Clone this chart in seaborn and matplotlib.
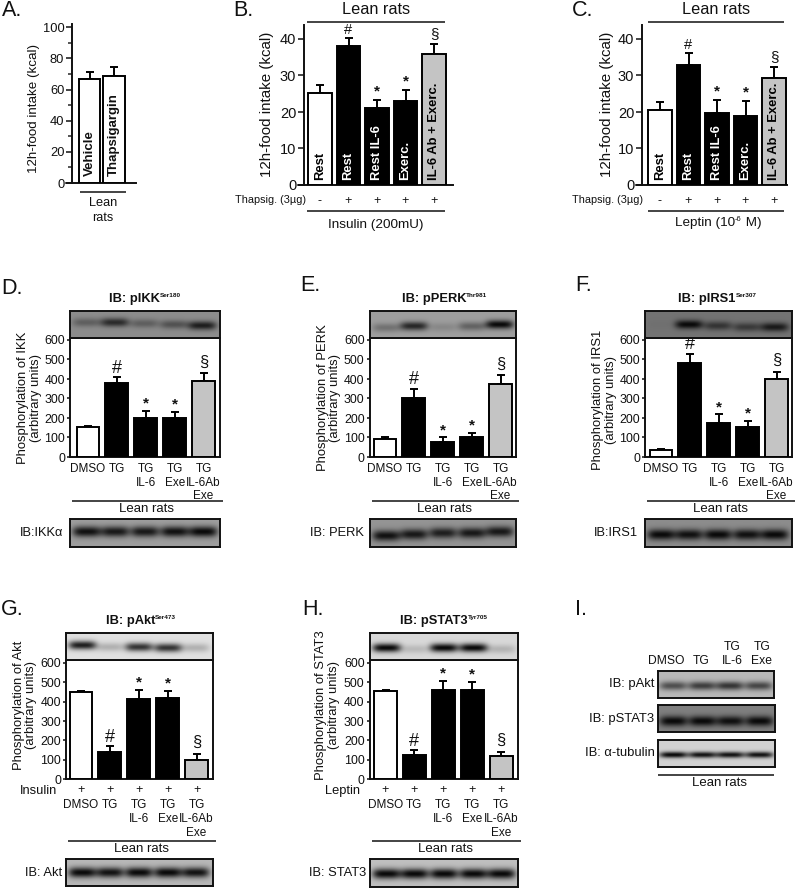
import numpy as np
import matplotlib
matplotlib.use('Agg')
import matplotlib.pyplot as plt
import seaborn as sns

# valores
a_vals = [66.5, 69]
a_errs = [4.5, 5.5]
a_names = ['Vehicle', 'Thapsigargin']

feed_names = ['Rest', 'Rest', 'Rest IL-6', 'Exerc.', 'IL-6 Ab + Exerc.']
b_vals = [25.2, 38, 21.2, 23, 36]
b_errs = [2.3, 2.4, 2.1, 3, 2.5]
c_vals = [20.5, 33, 19.8, 19, 29.2]
c_errs = [2.2, 3.3, 3.5, 4, 3]
thapsig_signs = ['-', '+', '+', '+', '+']

tg_labels = ['DMSO', 'TG', 'TG\nIL-6', 'TG\nExe', 'TG\nIL-6Ab\nExe']
d_vals = [152, 380, 200, 198, 388]
d_errs = [6, 30, 35, 34, 42]
e_vals = [92, 305, 75, 100, 372]
e_errs = [8, 45, 25, 25, 46]
f_vals = [38, 480, 175, 155, 400]
f_errs = [5, 50, 43, 32, 37]
g_vals = [447, 140, 415, 417, 100]
g_errs = [8, 30, 43, 38, 32]
h_vals = [452, 127, 462, 462, 120]
h_errs = [6, 23, 43, 41, 22]

up_marks = ['', '#', '*', '*', '§']
down_marks = ['', '#', '*', '*', '§']

# intensidad de las bandas en los blots (0-1) y altura relativa
d_top_dark = [0.35, 0.75, 0.35, 0.45, 0.85]
d_top_y = [0.42, 0.42, 0.46, 0.5, 0.54]
e_top_dark = [0.3, 0.8, 0.15, 0.4, 1.0]
e_top_y = [0.62, 0.56, 0.6, 0.57, 0.5]
f_top_dark = [0.03, 1.0, 0.6, 0.55, 0.85]
f_top_y = [0.5, 0.5, 0.55, 0.6, 0.6]
g_top_dark = [0.9, 0.22, 0.8, 0.8, 0.22]
g_top_y = [0.45, 0.52, 0.52, 0.55, 0.55]
h_top_dark = [1.0, 0.15, 1.0, 1.0, 0.18]
h_top_y = [0.55, 0.6, 0.55, 0.55, 0.6]
d_load_dark = [0.95, 0.9, 0.9, 0.95, 1.0]
e_load_dark = [0.95, 0.9, 0.85, 0.9, 0.9]
f_load_dark = [1.0, 0.95, 1.0, 0.95, 1.0]
g_load_dark = [1.0, 0.95, 1.0, 1.0, 0.95]
h_load_dark = [1.0, 1.0, 1.0, 1.0, 1.0]
i_akt_dark = [0.6, 0.7, 0.75, 0.65]
i_stat_dark = [1.0, 1.0, 0.95, 1.0]
i_tub_dark = [1.0, 0.95, 0.95, 0.95]

W, H = 796, 888
INK = '#111111'
GRAY = '#c4c4c4'

sns.set_style('ticks')
plt.rcParams['font.family'] = ['Liberation Sans', 'DejaVu Sans']
fig = plt.figure(figsize=(W / 100, H / 100), dpi=100, facecolor='white')

# eje de toda la figura en pixeles para textos y reglas
ov = fig.add_axes([0, 0, 1, 1], zorder=10)
ov.set_xlim(0, W)
ov.set_ylim(H, 0)
ov.axis('off')
ov.patch.set_alpha(0)


def px_axes(left, top, right, bottom):
    return fig.add_axes([left / W, 1 - bottom / H, (right - left) / W, (bottom - top) / H])


def txt(x, y, s, size=9, ha='center', rot=0, **kw):
    return ov.text(x, y, s, fontsize=size, ha=ha, va='center', rotation=rot, color=INK, **kw)


def rule(x0, x1, y):
    ov.plot([x0, x1], [y, y], color=INK, lw=1.1, solid_capstyle='butt')


def sup_text(x, y, base, sup, tail='', size=9, weight='normal', sup_size=5):
    r = fig.canvas.get_renderer()
    t = txt(x, y, base, size=size, ha='left', fontweight=weight)
    x1 = t.get_window_extent(r).x1
    s = txt(x1, y - 4, sup, size=sup_size, ha='left', fontweight=weight)
    if tail:
        txt(s.get_window_extent(r).x1, y, tail, size=size, ha='left', fontweight=weight)


def blot(box, bg, dark, ys=None, centers=None, wy=0.17):
    left, top, right, bottom = box
    ax = px_axes(left, top, right, bottom)
    ny, nx = int(bottom - top), int(right - left)
    n = len(dark)
    if centers is None:
        centers = [0.11, 0.3, 0.5, 0.7, 0.89] if n == 5 else [0.13, 0.38, 0.62, 0.87]
    if ys is None:
        ys = [0.52] * n
    xx, yy = np.meshgrid(np.linspace(0, 1, nx), np.linspace(0, 1, ny))
    img = np.full((ny, nx), float(bg))
    for c, d, yc in zip(centers, dark, ys):
        prof = np.exp(-((xx - c) / (0.48 / n)) ** 4) * np.exp(-((yy - yc) / wy) ** 2)
        img -= (bg - 0.04) * d * prof
    sns.heatmap(img, ax=ax, cmap='gray', vmin=0, vmax=1, cbar=False,
                xticklabels=False, yticklabels=False, rasterized=True)
    for sp in ax.spines.values():
        sp.set_visible(True)
        sp.set_linewidth(1.4)
        sp.set_color(INK)
    ax.set_zorder(5)
    return ax


def bars(box, c0, pitch, y0_tick, vals, errs, colors, ymajor, tick_px, width=0.8, lw=1.4):
    left, top, right, bottom = box
    ax = px_axes(left, top, right, bottom)
    pos = np.arange(len(vals))
    sns.barplot(x=pos, y=vals, ax=ax, width=width, color='white',
                edgecolor='black', linewidth=lw, zorder=3)
    for p, col in zip(ax.patches, colors):
        p.set_facecolor(col)
    ax.errorbar(pos, vals, yerr=[np.zeros(len(vals)), errs], fmt='none', ecolor='black',
                elinewidth=lw, capsize=2.6, capthick=lw, zorder=2)
    ppu = (bottom - y0_tick[0]) / y0_tick[1]
    ax.set_ylim(0, (bottom - top) / ppu)
    ax.set_xlim((left - c0) / pitch, (right - c0) / pitch)
    ax.set_yticks(ymajor)
    ax.tick_params(axis='y', length=tick_px * 0.72, width=1.1, pad=1.2, color=INK, labelcolor=INK)
    ax.set_xlabel('')
    ax.set_ylabel('')
    for sp in ax.spines.values():
        sp.set_linewidth(1.4)
        sp.set_color(INK)
    ax.patch.set_alpha(0)
    return ax, ppu


def marks(ax, vals, errs, syms, gap_hash=8, gap_star=5.5, gap_sec=11, size=11, sec_size=12, star_size=11):
    for i, (v, e, m) in enumerate(zip(vals, errs, syms)):
        if not m:
            continue
        gap = {'*': gap_star, '#': gap_hash, '§': gap_sec}[m]
        fs = {'*': star_size, '#': size, '§': sec_size}[m]
        ax.annotate(m, (i, v + e), xytext=(0, gap * 0.72), textcoords='offset points',
                    ha='center', va='center', fontsize=fs, color=INK,
                    fontweight='bold' if m == '*' else 'normal', annotation_clip=False)


# --- panel A
ax, _ = bars((72, 24, 136, 183), 89.5, 24.5, (27.3, 100), a_vals, a_errs, ['white', 'white'],
             [0, 20, 40, 60, 80, 100], 6, width=0.86)
ax.set_yticks([10, 30, 50, 70, 90], minor=True)
ax.tick_params(axis='y', which='minor', length=2.6, width=1.1)
ax.tick_params(axis='y', labelsize=9.3)
ax.set_xticks([])
sns.despine(ax=ax)
ax.plot([(66 - 89.5) / 24.5, (72 - 89.5) / 24.5], [0, 0], color=INK, lw=1.4, clip_on=False)
for i, name in enumerate(a_names):
    ax.annotate(name, (i, 0), xytext=(0, 5), textcoords='offset points', rotation=90,
                ha='center', va='bottom', fontsize=9.5, fontweight='bold', color=INK)
txt(12, 11, 'A.', size=15.5)
txt(34, 108, '12h-food intake (kcal)', size=9.6, rot=90)
rule(80, 126, 192)
txt(103, 203, 'Lean', size=9.2)
txt(103, 218, 'rats', size=9.2)


# --- paneles B y C
def feed_panel(box, c0, vals, errs, letter, letter_x, label_x, row_right, rule_x, lean_x):
    ax, _ = bars(box, c0, 28.5, (39, 40), vals, errs, ['white', 'black', 'black', 'black', GRAY],
                 [0, 10, 20, 30, 40], 6, width=0.83)
    ax.tick_params(axis='y', labelsize=10.5)
    ax.set_xticks([])
    sns.despine(ax=ax)
    ax.plot([(box[0] - 6 - c0) / 28.5, (box[0] - c0) / 28.5], [0, 0], color=INK, lw=1.4, clip_on=False)
    text_cols = ['black', 'white', 'white', 'white', 'black']
    for i, name in enumerate(feed_names):
        ax.annotate(name, (i, 0), xytext=(0, 3.6), textcoords='offset points', rotation=90,
                    ha='center', va='bottom', fontsize=9.4, fontweight='bold', color=text_cols[i])
    marks(ax, vals, errs, up_marks, gap_hash=7.5, gap_star=8.5, gap_sec=10, size=10.5, sec_size=11)
    txt(letter_x, 10, letter, size=15.5)
    txt(label_x, 104, '12h-food intake (kcal)', size=10.9, rot=90)
    txt(lean_x, 10, 'Lean rats', size=11.7)
    rule(rule_x[0], rule_x[1], 22)
    txt(row_right, 200, 'Thapsig. (3µg)', size=7.8, ha='right')
    for i, s in enumerate(thapsig_signs):
        txt(c0 + i * 28.5, 201, s, size=9)
    rule(rule_x[0], rule_x[1], 211)


feed_panel((304, 25, 453, 185), 320, b_vals, b_errs, 'B.', 243, 267, 306, (307, 445), 376)
txt(376, 225, 'Insulin (200mU)', size=9.7)
feed_panel((642, 25, 787, 185), 660, c_vals, c_errs, 'C.', 583, 607, 643, (648, 784), 716)
sup_text(675, 223, 'Leptin (10', '-6', ' M)', size=9.7, sup_size=5.5)


# --- paneles con blot arriba y abajo
def wb_panel(left, right, c0, vals, errs, colors, letter, letter_xy, title, sup, title_x, title_y,
             ylab, ylab_x, ylab_y, blot_top, top_dark, top_y, top_bg, load_box, load_bg, load_dark,
             load_y, load_name, load_right, y_top_tick, y_zero, frame_top, syms, pre=None):
    ax, _ = bars((left, frame_top, right, y_zero), c0, 28.9, (y_top_tick, 600), vals, errs, colors,
                 [0, 100, 200, 300, 400, 500, 600], 3.2, width=0.79)
    ax.tick_params(axis='y', labelsize=8.9)
    ax.set_xticks(np.arange(5))
    ax.set_xticklabels(tg_labels, fontsize=8.5, linespacing=1.18, color=INK)
    ax.tick_params(axis='x', length=0, pad=14.5 if pre else 4.5)
    marks(ax, vals, errs, syms, gap_hash=9, gap_star=7.5, size=13)
    blot((left, blot_top, right, frame_top), top_bg, top_dark, top_y)
    blot(load_box, load_bg, load_dark, load_y, wy=0.2)
    txt(letter_xy[0], letter_xy[1], letter, size=15.5)
    sup_text(title_x, title_y, title, sup, size=9.3, weight='bold', sup_size=4.6)
    txt(ylab_x, ylab_y, ylab + '\n(arbitrary units)', size=9.4, rot=90, linespacing=1.1,
        multialignment='center')
    rule(left + 2, right + 3, load_box[1] - 18)
    txt((left + right) / 2 + 2, load_box[1] - 10, 'Lean rats', size=9.5)
    txt(load_right, (load_box[1] + load_box[3]) / 2, load_name, size=9.3, ha='right')
    if pre:
        txt(left - 9, y_zero + 12, pre, size=9.3, ha='right')
        for i in range(5):
            txt(c0 + i * 28.9, y_zero + 11, '+', size=9)


up_cols = ['white', 'black', 'black', 'black', GRAY]
wb_panel(70, 219.5, 88, d_vals, d_errs, up_cols, 'D.', (12, 288), 'IB: pIKK', 'Ser180', 109, 299,
         'Phosphorylation of IKK', 29.5, 398, 311, d_top_dark, d_top_y, 0.55,
         (70, 519, 220, 547), 0.62, d_load_dark, [0.45] * 5, 'IB:IKKα', 63, 340, 457, 338, up_marks)
wb_panel(369.5, 516, 385, e_vals, e_errs, up_cols, 'E.', (310, 285), 'IB: pPERK', 'Thr981', 401.7, 299,
         'Phosphorylation of PERK', 329, 398, 311, e_top_dark, e_top_y, 0.62,
         (369.5, 519, 516, 547), 0.58, e_load_dark, [0.6, 0.55, 0.5, 0.5, 0.45], 'IB: PERK', 364, 340, 457, 338, up_marks)
wb_panel(645, 791.5, 661, f_vals, f_errs, up_cols, 'F.', (584, 285), 'IB: pIRS1', 'Ser307', 678, 299,
         'Phosphorylation of IRS1', 604.5, 400, 311, f_top_dark, f_top_y, 0.45,
         (645, 519, 791.5, 547), 0.55, f_load_dark, [0.56] * 5, 'IB:IRS1', 638, 340, 457, 338, up_marks)
wb_panel(66, 212.5, 81, g_vals, g_errs, up_cols, 'G.', (12, 609), 'IB: pAkt', 'Ser473', 105.7, 621,
         'Phosphorylation of Akt', 25, 705, 632.5, g_top_dark, g_top_y, 0.88,
         (66, 859, 212.5, 886), 0.72, g_load_dark, [0.5] * 5, 'IB: Akt', 62, 662.7, 779.3, 659.5, down_marks,
         pre='Insulin')
wb_panel(369.5, 517.5, 385.5, h_vals, h_errs, up_cols, 'H.', (313, 609), 'IB: pSTAT3', 'Tyr705', 400, 621,
         'Phosphorylation of STAT3', 327.5, 705, 632.5, h_top_dark, h_top_y, 0.85,
         (369.5, 859, 517.5, 886.5), 0.75, h_load_dark, [0.55] * 5, 'IB: STAT3', 366, 662.7, 779.3, 660, down_marks,
         pre='Leptin')

# --- panel I
txt(581, 609, 'I.', size=15.5)
txt(666.7, 661, 'DMSO', size=8.7)
txt(700.7, 661, 'TG', size=8.7)
txt(732, 646.7, 'TG', size=8.7)
txt(732, 661, 'IL-6', size=8.7)
txt(761.7, 646.7, 'TG', size=8.7)
txt(761.7, 661, 'Exe', size=8.7)
blot((657.5, 671, 774, 698), 0.72, i_akt_dark, [0.55] * 4, wy=0.17)
blot((657.5, 705, 774.5, 732), 0.5, i_stat_dark, [0.6] * 4, wy=0.2)
blot((657.5, 739.5, 774.5, 767), 0.82, i_tub_dark, [0.55] * 4, wy=0.12)
txt(654.5, 684, 'IB: pAkt', size=9.4, ha='right')
txt(654.5, 719, 'IB: pSTAT3', size=9.4, ha='right')
txt(654.5, 753, 'IB: α-tubulin', size=9.4, ha='right')
rule(658, 774, 774.5)
txt(720, 782.5, 'Lean rats', size=9.5)

fig.savefig('out.png', dpi=100)
